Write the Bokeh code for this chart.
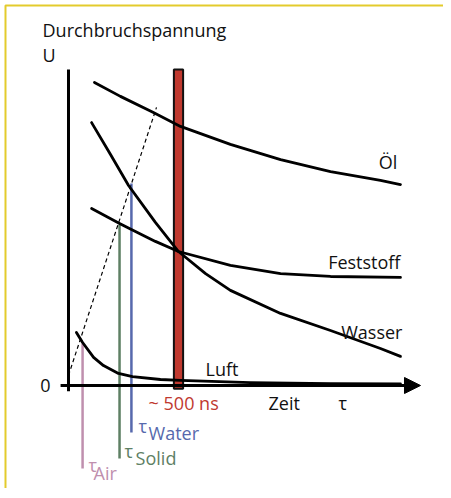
from bokeh.plotting import figure
from bokeh.models import Arrow, NormalHead
from bokeh.core.properties import value
from bokeh.embed import file_html
from bokeh.resources import INLINE

# ---- data (time in ns, breakdown voltage in arbitrary units 0..100) ----
oel_t = [118, 236, 386, 509, 736, 964, 1191, 1418, 1509]
oel_u = [95.9, 91.5, 86.4, 82.0, 76.3, 71.5, 67.7, 64.9, 63.6]

fest_t = [105, 232, 286, 395, 500, 736, 964, 1191, 1509]
fest_u = [56.0, 51.3, 49.4, 45.6, 42.4, 38.0, 35.4, 34.5, 34.2]

wasser_t = [105, 191, 273, 395, 500, 623, 736, 964, 1191, 1418, 1509]
wasser_u = [83.2, 73.1, 63.3, 51.6, 42.4, 35.4, 30.1, 22.8, 17.4, 11.7, 9.2]

luft_t = [36, 64, 114, 159, 227, 291, 418, 509, 827, 1191, 1509]
luft_u = [16.8, 13.6, 8.9, 6.3, 3.8, 2.8, 1.9, 1.6, 0.9, 0.6, 0.5]

dash_t = [0, 400]
dash_u = [3.2, 88.0]

pulse_ns = 500

tau_names = ["Air", "Solid", "Water"]
tau_t = [64, 232, 286]
tau_top = [13.3, 50.9, 63.9]
tau_bottom = [-26.3, -23.1, -14.9]
tau_colors = ["#bf8fae", "#5e8064", "#5769ad"]

RED = "#c0392f"
FONT = value("Open Sans")
FS = value("18px")

X0, X1 = -309.1, 1704.6
Y0, Y1 = -32.60, 121.84
p = figure(width=443, height=488, x_range=(X0, X1), y_range=(Y0, Y1),
           output_backend="svg", toolbar_location=None, min_border=0,
           x_axis_location=None, y_axis_location=None)
p.grid.visible = False
p.outline_line_color = None
p.background_fill_color = "white"
p.border_fill_color = "white"

# yellow frame (left and top) as one L-shaped line
p.line([-286.4, -286.4, X1 + 20], [Y0 - 5, 120.26, 120.26],
       line_color="#e3cb2c", line_width=2)

# tau markers
for t, top, bot, c in zip(tau_t, tau_top, tau_bottom, tau_colors):
    p.segment(x0=[t], y0=[top], x1=[t], y1=[bot], line_color=c, line_width=2.5)

# red pulse bar
p.vbar(x=[pulse_ns], width=42, top=[100], bottom=[-1], fill_color=RED,
       line_color="#111111", line_width=2)

# axes
p.segment(x0=[0], y0=[-1.8], x1=[0], y1=[100], line_color="black", line_width=3)
p.add_layout(Arrow(end=NormalHead(size=16, fill_color="black", line_color="black"),
                   x_start=-36, y_start=0, x_end=1600, y_end=0,
                   line_color="black", line_width=3))

# dashed line
p.line(dash_t, dash_u, line_color="black", line_width=1.2, line_dash="4 3")

# curves
for xs, ys in [(oel_t, oel_u), (fest_t, fest_u), (wasser_t, wasser_u), (luft_t, luft_u)]:
    p.line(xs, ys, line_color="black", line_width=2.8, line_join="round", line_cap="round")

def txt(x, y, s, color="#111111", align="left"):
    p.text(x=[x], y=[y], text=[s], text_font=FONT, text_font_size=FS,
           text_color=color, text_align=align, text_baseline="middle")

txt(-118, 112.47, "Durchbruchspannung")
txt(-118, 104.56, "U")
txt(1495, 70.70, "Öl", align="right")
txt(1509, 39.05, "Feststoff", align="right")
txt(1518, 16.90, "Wasser", align="right")
txt(623, 5.19, "Luft")
txt(-82, 0, "0", align="right")
txt(364, -5.57, "~ 500 ns", color=RED)
txt(909, -5.57, "Zeit")
txt(1227, -5.57, "τ")

# tau subscripts
tau_sym_pos = [(91, -25.19), (254, -20.76), (318, -12.85)]
tau_sub_pos = [(114, -27.72), (305, -22.97), (364, -15.06)]
for name, c, (sx, sy), (bx, by) in zip(tau_names, tau_colors, tau_sym_pos, tau_sub_pos):
    txt(sx, sy, "τ", color=c)
    txt(bx, by, name, color=c)

open("out.html", "w").write(file_html(p, INLINE))
